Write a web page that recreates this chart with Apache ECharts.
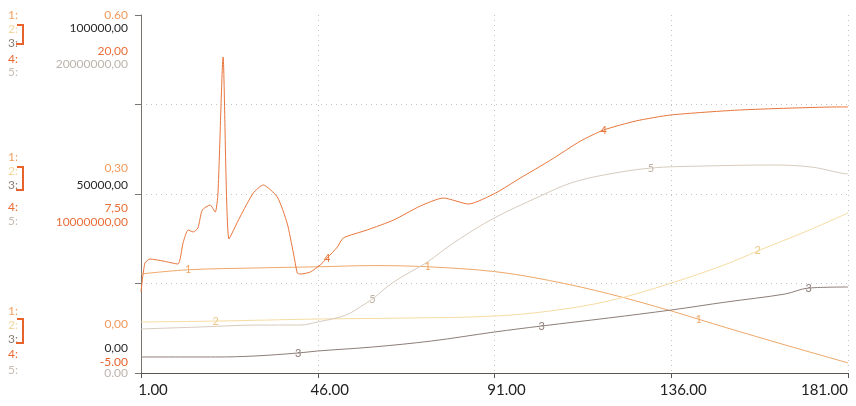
<!DOCTYPE html>
<html>
<head>
<meta charset="utf-8">
<script src="https://cdn.jsdelivr.net/npm/echarts@6/dist/echarts.min.js"></script>
<style>
html,body{margin:0;padding:0;background:#fff;}
#chart{width:856px;height:406px;}
</style>
</head>
<body>
<div id="chart"></div>
<script>
// ---- data ----
const xTicks = [1, 46, 91, 136, 181];

const t1 = [1, 13, 30, 46, 60, 74, 91, 105, 120, 136, 143, 150, 165, 181];
const v1 = [0.166, 0.173, 0.176, 0.178, 0.180, 0.178, 0.170, 0.155, 0.133, 0.104, 0.090, 0.076, 0.047, 0.017];
const lbl1 = [1, 5, 10];

const t2 = [1, 20, 46, 70, 91, 105, 120, 136, 150, 158, 170, 181];
const v2 = [14250, 14500, 15080, 15360, 15900, 17300, 20100, 25100, 30400, 34100, 39400, 44700];
const lbl2 = [1, 9];

const t3 = [1, 20, 30, 41, 46, 60, 75, 91, 103, 120, 136, 150, 165, 171, 181];
const v3 = [4470, 4470, 4750, 5590, 6150, 7260, 8940, 11450, 13130, 15360, 17600, 19830, 22070, 23740, 24020];
const lbl3 = [3, 8, 13];

const t4 = [1, 2, 3.3, 6.6, 10.4, 11.7, 13, 14.3, 15.5, 16.6, 18.6, 19.9, 20.6, 21.9, 23.4, 26.2, 29.6, 32.1, 35.7, 38.2, 39.8, 40.8, 41.5, 44.1, 46.6, 48.4, 51, 52.5, 58.6, 65.3, 72.1, 78, 84.4, 91.3, 97.6, 105.3, 112.9, 118.8, 127, 135.9, 153.7, 179.2, 181];
const v4 = [0.66, 2.68, 2.96, 2.82, 2.61, 4.08, 4.99, 4.85, 5.13, 6.38, 6.73, 6.24, 7.57, 17.07, 4.36, 5.89, 7.57, 8.13, 7.29, 5.47, 3.38, 1.98, 1.91, 2.05, 2.54, 3.03, 3.80, 4.43, 4.99, 5.68, 6.66, 7.22, 6.80, 7.57, 8.62, 9.87, 11.20, 11.97, 12.60, 13.02, 13.37, 13.58, 13.58];
const lbl4 = [25, 37];

const t5 = [1, 16, 31, 41.5, 46, 51.7, 54.3, 56.8, 59.9, 65.3, 73.9, 79.8, 90, 102.7, 110.4, 118.8, 130.8, 143.5, 162, 171.6, 179.2, 181];
const v5 = [2.46e6, 2.57e6, 2.68e6, 2.68e6, 2.85e6, 3.13e6, 3.35e6, 3.69e6, 4.13e6, 5.08e6, 6.20e6, 7.15e6, 8.55e6, 9.89e6, 10.61e6, 11.06e6, 11.45e6, 11.56e6, 11.62e6, 11.51e6, 11.17e6, 11.12e6];
const lbl5 = [8, 16];

// tick labels per scale: [bottom, middle, top]
const scale1Ticks = ['0,00', '0,30', '0.60'];
const scale23Ticks = ['0,00', '50000,00', '100000,00'];
const scale4Ticks = ['-5.00', '7,50', '20,00'];
const scale5Ticks = ['0.00', '10000000,00', '20000000,00'];
const scaleRanges = [[0, 0.6], [0, 100000], [-5, 20], [0, 20000000]];

const legendNames = ['1:', '2:', '3:', '4:', '5:'];

// ---- styles ----
const FONT = 'Lato, "Open Sans", sans-serif';
const lineColors = ['#efa868', '#f6dca2', '#8e7e78', '#e8763c', '#d8cbbe'];
const legendColors = ['#f0a060', '#f3d79c', '#8c8078', '#e86c34', '#c6bcb2'];
const tickColors = [
  ['#f09a5e', '#f09a5e', '#f09a5e'],
  ['#2a2a2a', '#2a2a2a', '#2a2a2a'],
  ['#e8622c', '#e8703a', '#e8703a'],
  ['#bdb4ab', '#e8703a', '#bdb4ab']
];
// vertical shift of each tick label (px, + = down): bottom, middle, top
const tickShifts = [
  [-49, -26, 0],
  [-25, -9, 13],
  [-11, 14, 36],
  [0, 28, 49]
];
const legendGroupsY = [[16, 30, 44, 60, 73], [158, 172, 186, 208, 222], [312, 326, 340, 355, 371]];
const bracketsY = [[25, 44], [167, 190], [319, 343]];

const tickTexts = [scale1Ticks, scale23Ticks, scale4Ticks, scale5Ticks];

function makeYAxis(k) {
  const [mn, mx] = scaleRanges[k];
  const rich = {};
  for (let j = 0; j < 3; j++) {
    const s = tickShifts[k][j];
    rich['p' + j] = {
      color: tickColors[k][j], fontSize: 12, fontFamily: FONT,
      padding: s < 0 ? [0, 0, -2 * s, 0] : [2 * s, 0, 0, 0]
    };
  }
  const step = (mx - mn) / 4;
  return {
    type: 'value', min: mn, max: mx, interval: step,
    position: 'left', offset: 0,
    axisLine: { show: k === 0, lineStyle: { color: '#7a7470', width: 1 } },
    axisTick: { show: k === 0, length: 6, lineStyle: { color: '#7a7470' } },
    splitLine: { show: k === 0, showMinLine: false, showMaxLine: false, lineStyle: { color: '#c4c4c4', type: [1, 4], width: 1 } },
    axisLabel: {
      show: true, margin: 13,
      formatter: function (v) {
        const idx = Math.round((v - mn) / step);
        if (idx % 2 !== 0) return '';
        const j = idx / 2;
        return '{p' + j + '|' + tickTexts[k][j] + '}';
      },
      rich: rich
    }
  };
}

function pairs(t, v) { return t.map((x, i) => [x, v[i]]); }

const seriesDefs = [
  { t: t1, v: v1, lbl: lbl1, axis: 0, name: '1' },
  { t: t2, v: v2, lbl: lbl2, axis: 1, name: '2' },
  { t: t3, v: v3, lbl: lbl3, axis: 1, name: '3' },
  { t: t4, v: v4, lbl: lbl4, axis: 2, name: '4' },
  { t: t5, v: v5, lbl: lbl5, axis: 3, name: '5' }
];

const series = seriesDefs.map((d, i) => ({
  type: 'line',
  name: d.name,
  yAxisIndex: d.axis,
  data: pairs(d.t, d.v),
  showSymbol: false,
  smooth: i === 3 ? 0.2 : 0.35,
  lineStyle: { color: lineColors[i], width: 1 },
  itemStyle: { color: lineColors[i] },
  animation: false,
  markPoint: {
    symbol: 'circle', symbolSize: 1,
    itemStyle: { color: 'rgba(0,0,0,0)' },
    label: { show: true, position: 'inside', formatter: d.name, color: i === 4 ? '#bdb1a5' : (i === 1 ? '#ecc98a' : lineColors[i]), fontSize: 11, fontFamily: FONT },
    data: d.lbl.map(j => ({ coord: [d.t[j], d.v[j]] })),
    animation: false
  }
}));

const graphics = [];
legendGroupsY.forEach((ys, g) => {
  ys.forEach((y, i) => {
    graphics.push({
      type: 'text', left: 8, top: y - 7,
      style: { text: legendNames[i], fill: legendColors[i], font: '12px ' + FONT }
    });
  });
  const [a, b] = bracketsY[g];
  graphics.push({
    type: 'polyline',
    shape: { points: [[17, a], [23, a], [23, b], [16, b]] },
    style: { stroke: '#e8622c', lineWidth: 2, fill: null }
  });
});

const chart = echarts.init(document.getElementById('chart'), null, { renderer: 'canvas' });
chart.setOption({
  backgroundColor: '#ffffff',
  animation: false,
  grid: { left: 141, right: 8, top: 15, bottom: 33 },
  xAxis: {
    type: 'value', min: xTicks[0], max: xTicks[xTicks.length - 1], interval: xTicks[1] - xTicks[0],
    axisLine: { lineStyle: { color: '#5a5550', width: 1 } },
    axisTick: { length: 5, lineStyle: { color: '#5a5550' } },
    splitLine: { show: true, showMinLine: false, showMaxLine: true, lineStyle: { color: '#c4c4c4', type: [1, 4], width: 1 } },
    axisLabel: {
      margin: 10, fontSize: 15, color: '#222', fontFamily: FONT,
      alignMaxLabel: 'right',
      formatter: function (v) {
        const s = v.toFixed(2);
        return v === xTicks[xTicks.length - 1] ? '{e|' + s + '}' : '{n|' + s + '}';
      },
      rich: {
        n: { fontSize: 15, color: '#222', fontFamily: FONT, padding: [0, 0, 0, 24] },
        e: { fontSize: 15, color: '#222', fontFamily: FONT }
      }
    }
  },
  yAxis: [0, 1, 2, 3].map(makeYAxis),
  series: series,
  graphic: graphics
});
</script>
</body>
</html>
